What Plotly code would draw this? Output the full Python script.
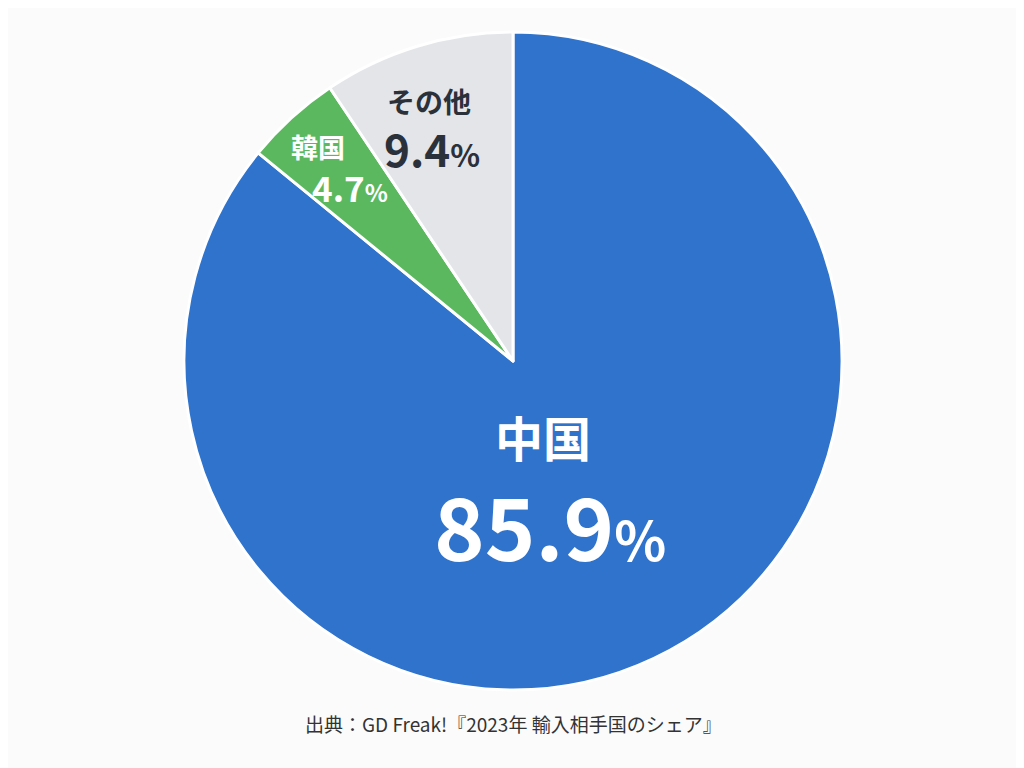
import plotly.graph_objects as go

# ---- data ----
countries = ["中国", "韓国", "その他"]
shares = [85.9, 4.7, 9.4]
colors = ["#2f73cc", "#5cb85f", "#e3e5e9"]
source_text = "出典：GD Freak!『2023年 輸入相手国のシェア』"

W, H = 1024, 768
OFF = 8  # page body margin offset in the browser
FONT = "Noto Sans CJK JP"


def px(x):
    return (x - OFF) / W


def py(y):
    return 1 - (y - OFF) / H


CX, CY, R = 513, 361, 329

fig = go.Figure(
    go.Pie(
        labels=countries,
        values=shares,
        sort=False,
        direction="clockwise",
        rotation=0,
        marker=dict(colors=colors, line=dict(color="#ffffff", width=3)),
        textinfo="none",
        hoverinfo="label+percent",
        showlegend=False,
        domain=dict(x=[px(CX - R), px(CX + R)],
                    y=[py(CY + R), py(CY - R)]),
    )
)

# label styling: (name position, value position, name size, value size, pct size, color)
label_style = {
    "中国": ((543, 436), (550, 523), 48, 86, 54, "#ffffff"),
    "韓国": ((318, 146), (350, 187), 27, 35, 24, "#ffffff"),
    "その他": ((429, 101), (432, 148), 28, 44, 31, "#2b313b"),
}

annotations = []
for name, val in zip(countries, shares):
    (nx, ny), (vx, vy), ns, vs, ps, col = label_style[name]
    annotations.append(dict(
        x=px(nx), y=py(ny), xref="paper", yref="paper",
        xanchor="center", yanchor="middle", showarrow=False,
        text=name, font=dict(family=FONT, size=ns, color=col, weight=700),
    ))
    annotations.append(dict(
        x=px(vx), y=py(vy), xref="paper", yref="paper",
        xanchor="center", yanchor="middle", showarrow=False,
        text=f"{val:.1f}<span style='font-size:{ps}px'>%</span>",
        font=dict(family=FONT, size=vs, color=col, weight=700),
    ))

annotations.append(dict(
    x=px(513), y=py(723), xref="paper", yref="paper",
    xanchor="center", yanchor="middle", showarrow=False,
    text=source_text, font=dict(family=FONT, size=19, color="#333333"),
))

fig.update_layout(
    width=W, height=H,
    margin=dict(l=0, r=0, t=0, b=0),
    paper_bgcolor="#fbfbfb",
    plot_bgcolor="#fbfbfb",
    annotations=annotations,
)

fig.write_html("out.html")
